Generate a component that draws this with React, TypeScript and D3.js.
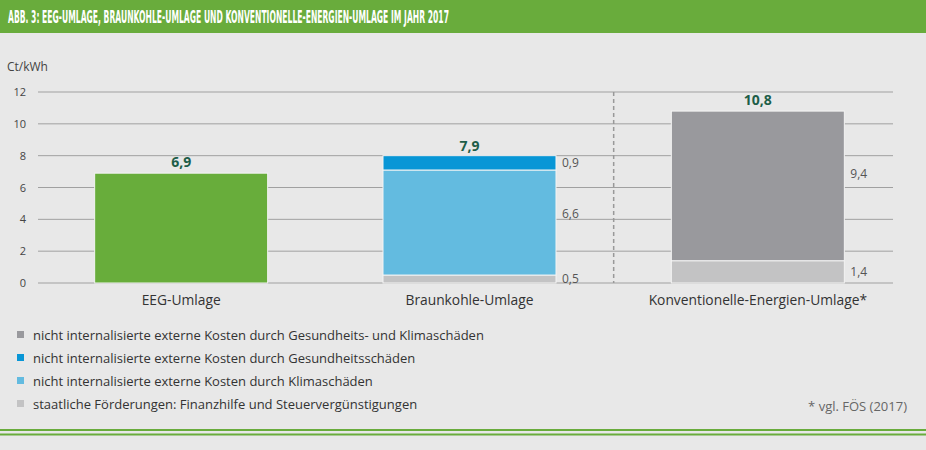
import React, { useEffect, useRef, useState } from "react";
import * as d3 from "d3";

const title = "ABB. 3: EEG-UMLAGE, BRAUNKOHLE-UMLAGE UND KONVENTIONELLE-ENERGIEN-UMLAGE IM JAHR 2017";
const categories = ["EEG-Umlage", "Braunkohle-Umlage", "Konventionelle-Energien-Umlage*"];
const totals = [6.9, 7.9, 10.8];
const totalLabels = ["6,9", "7,9", "10,8"];
const seriesKeys = ["eeg", "foerderung", "klima", "gesundheit", "beides"];
const eegValues = [6.9, 0, 0];
const foerderungValues = [0, 0.5, 1.4];
const klimaValues = [0, 6.6, 0];
const gesundheitValues = [0, 0.9, 0];
const beidesValues = [0, 0, 9.4];
const yTicks = [0, 2, 4, 6, 8, 10, 12];
const legendLabels = [
  "nicht internalisierte externe Kosten durch Gesundheits- und Klimaschäden",
  "nicht internalisierte externe Kosten durch Gesundheitsschäden",
  "nicht internalisierte externe Kosten durch Klimaschäden",
  "staatliche Förderungen: Finanzhilfe und Steuervergünstigungen",
];
const legendKeys = ["beides", "gesundheit", "klima", "foerderung"];
const unitLabel = "Ct/kWh";
const sourceLabel = "* vgl. FÖS (2017)";

const colors: Record<string, string> = {
  eeg: "#68ad3b",
  foerderung: "#c3c3c4",
  klima: "#63bbe0",
  gesundheit: "#0896d6",
  beides: "#99999d",
};

const font = "'Open Sans', sans-serif";

export default function App() {
  const W = 926, H = 450;
  const titleRef = useRef<SVGTextElement>(null);
  const [sx, setSx] = useState(0.55);
  useEffect(() => {
    if (titleRef.current) {
      const len = titleRef.current.getComputedTextLength();
      if (len > 0) setSx(441 / len);
    }
  }, []);

  const x = d3.scaleBand().domain(categories).range([37, 902]).paddingInner(0.4).paddingOuter(0.2);
  const y = d3.scaleLinear().domain([0, 12]).range([283, 92]);

  const rows = categories.map((c, i) => ({
    cat: c,
    eeg: eegValues[i],
    foerderung: foerderungValues[i],
    klima: klimaValues[i],
    gesundheit: gesundheitValues[i],
    beides: beidesValues[i],
  }));
  const stack = d3.stack<any>().keys(seriesKeys)(rows);
  const bw = x.bandwidth();
  const fmt = (v: number) => v.toFixed(1).replace(".", ",");
  const dividerX = (x(categories[1])! + bw + x(categories[2])!) / 2;

  return (
    <svg width={W} height={H} style={{ position: "absolute", left: 0, top: 0, fontFamily: font }}>
      <rect x={0} y={0} width={W} height={H} fill="#e8e8e8" />
      <rect x={0} y={0} width={W} height={33} fill="#69ac3c" />
      <g transform={`translate(8,23) scale(${sx},1)`}>
        <text ref={titleRef} x={0} y={0} fill="#fff" fontSize={17} fontWeight="bold"
          fontFamily="'DejaVu Sans Condensed', 'Liberation Sans Narrow', sans-serif">{title}</text>
      </g>

      <text x={7} y={71} fontSize={12} fill="#444">{unitLabel}</text>
      {yTicks.map((t) => (
        <g key={t}>
          <line x1={38} x2={893} y1={y(t)} y2={y(t)} stroke="#a0a0a0" strokeWidth={1} />
          <text x={26} y={y(t) + 4} fontSize={11} fill="#444" textAnchor="end">{t}</text>
        </g>
      ))}
      <line x1={dividerX} x2={dividerX} y1={y(12)} y2={y(0)} stroke="#999" strokeWidth={1.5} strokeDasharray="4,3" />

      {stack.map((s) =>
        s.map((d, i) => {
          const v = d[1] - d[0];
          if (v <= 0) return null;
          const cat = categories[i];
          return (
            <rect key={s.key + i} x={x(cat)} y={y(d[1])} width={bw} height={y(d[0]) - y(d[1])}
              fill={colors[s.key]} stroke="#f4f4f4" strokeWidth={1} />
          );
        })
      )}
      {stack.map((s) =>
        s.map((d, i) => {
          const v = d[1] - d[0];
          if (v <= 0 || s.key === "eeg") return null;
          const cat = categories[i];
          const pos = v > 2 ? d[0] + v * 0.58 : (d[0] + d[1]) / 2;
          return (
            <text key={"l" + s.key + i} x={x(cat)! + bw + 6} y={y(pos) + 4}
              fontSize={12} fill="#555">{fmt(v)}</text>
          );
        })
      )}
      {categories.map((c, i) => (
        <text key={"t" + c} x={x(c)! + bw / 2} y={y(totals[i]) - 6} fontSize={14} fontWeight="bold"
          fill="#1d5e48" textAnchor="middle">{totalLabels[i]}</text>
      ))}
      {categories.map((c) => (
        <text key={"c" + c} x={x(c)! + bw / 2} y={305} fontSize={13.8} fill="#333" textAnchor="middle">{c}</text>
      ))}

      {legendLabels.map((l, i) => (
        <g key={l}>
          <rect x={17} y={331 + i * 23} width={7} height={7} fill={colors[legendKeys[i]]} />
          <text x={33} y={340 + i * 23} fontSize={13} fill="#333">{l}</text>
        </g>
      ))}
      <text x={907} y={411} fontSize={13} fill="#666" textAnchor="end">{sourceLabel}</text>

      <line x1={0} x2={W} y1={430} y2={430} stroke="#69ac3c" strokeWidth={2} />
      <line x1={0} x2={W} y1={434.5} y2={434.5} stroke="#69ac3c" strokeWidth={2} />
    </svg>
  );
}
